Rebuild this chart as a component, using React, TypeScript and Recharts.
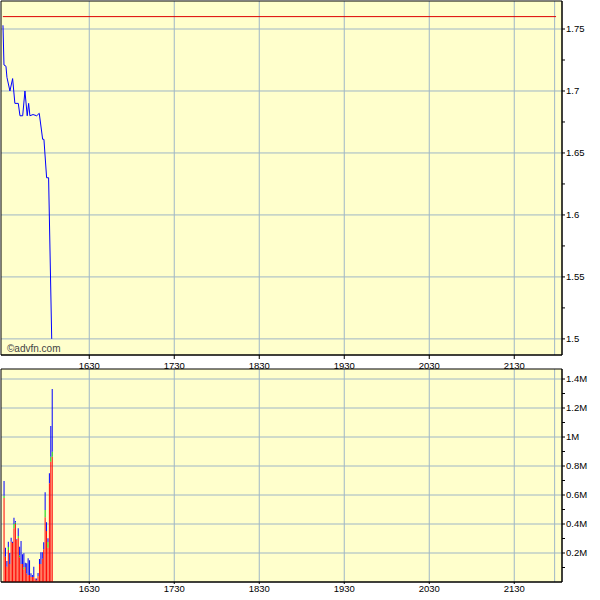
import {
    ComposedChart,
    Line,
    Bar,
    XAxis,
    YAxis,
    CartesianGrid,
    ReferenceLine,
    ReferenceArea,
} from 'recharts';

// time axis in minutes since midnight (990 = 16:30)
const X_DOMAIN: [number, number] = [927.7, 1323.7];
const TIME_TICKS = [990, 1050, 1110, 1170, 1230, 1290];
const SESSION_END = 1318.5;

const PRICE_TIMES = [
    929.1, 929.8, 931.2, 931.9, 934.0, 935.9, 937.5, 939.9, 941.1, 943.0, 944.6,
    946.2, 947.2, 948.1, 950.3, 952.9, 954.7, 957.1, 958.0, 959.9, 961.3, 963.5,
];
const PRICES = [
    1.753, 1.721, 1.72, 1.711, 1.7, 1.71, 1.69, 1.69, 1.68, 1.68, 1.7, 1.68, 1.69,
    1.68, 1.681, 1.68, 1.682, 1.661, 1.661, 1.63, 1.63, 1.5,
];
const PREV_CLOSE = 1.76;
const PRICE_DOMAIN: [number, number] = [1.487, 1.7726];
const PRICE_MAJOR = [1.5, 1.55, 1.6, 1.65, 1.7, 1.75];
const PRICE_MINOR = [1.525, 1.575, 1.625, 1.675, 1.725];

const VOL_TIMES = [
    930, 931, 932, 933, 934, 935, 936, 937, 938, 939, 940, 941, 942, 943, 944,
    945, 946, 947, 948, 949, 950, 951, 952, 953, 954, 955, 956, 957, 958, 959,
    960, 961, 962, 963, 964,
];
const VOL_RED = [
    580000, 174000, 106000, 221000, 124000, 278000, 269000, 370000, 400000,
    290000, 303000, 170000, 124000, 124000, 88000, 103000, 58000, 46000, 48000,
    35000, 35000, 35000, 20000, 12000, 40000, 124000, 124000, 160000, 226000,
    446000, 352000, 236000, 681000, 830000, 864000,
];
const VOL_GREEN = [
    15000, 0, 0, 20000, 0, 0, 0, 30000, 10000, 0, 15000, 12000, 0, 0, 12000, 0,
    0, 0, 0, 0, 0, 0, 0, 0, 0, 0, 0, 0, 0, 51000, 0, 40000, 0, 34000, 35000,
];
const VOL_BLUE = [
    102000, 62000, 39000, 37000, 76000, 28000, 9000, 43000, 11000, 4000, 52000,
    61000, 159000, 67000, 98000, 30000, 71000, 117000, 102000, 25000, 13000,
    71000, 5000, 13000, 22000, 35000, 81000, 45000, 48000, 122000, 60000, 25000,
    69000, 212000, 432000,
];
const VOL_DOMAIN: [number, number] = [0, 1469000];
const VOL_MAJOR = [200000, 400000, 600000, 800000, 1000000, 1200000, 1400000];
const VOL_MINOR = [
    100000, 300000, 500000, 700000, 900000, 1100000, 1300000,
];

const priceData = PRICE_TIMES.map((t, i) => ({ t, p: PRICES[i] }));
const volData = VOL_TIMES.map((t, i) => ({
    t,
    red: VOL_RED[i],
    green: VOL_GREEN[i],
    blue: VOL_BLUE[i],
}));

const FONT = '"Liberation Sans", Arial, sans-serif';
const GRID = '#9fb6c6';
const BG = '#ffffcc';
const tickStyle = { fontSize: 9.5, fill: '#000', fontFamily: FONT };

const fmtTime = (m: number) =>
    `${Math.floor(m / 60)}${String(m % 60).padStart(2, '0')}`;
const fmtPrice = (v: number) =>
    PRICE_MAJOR.includes(v) ? String(+v.toFixed(3)) : '';
const fmtVol = (v: number) =>
    VOL_MAJOR.includes(v) ? `${+(v / 1e6).toFixed(1)}M` : '';

export default function App() {
    return (
        <div
            style={{
                position: 'absolute',
                left: 0,
                top: 0,
                width: 600,
                height: 600,
                background: '#fff',
            }}
        >
            <div style={{ position: 'absolute', left: 0, top: 0 }}>
                <ComposedChart
                    width={600}
                    height={370}
                    data={priceData}
                    margin={{ top: 1, right: 0, bottom: 0, left: 1 }}
                >
                    <CartesianGrid
                        fill={BG}
                        fillOpacity={1}
                        stroke={GRID}
                        horizontalValues={PRICE_MAJOR}
                        verticalValues={[...TIME_TICKS, SESSION_END]}
                    />
                    <XAxis
                        dataKey="t"
                        type="number"
                        domain={X_DOMAIN}
                        ticks={TIME_TICKS}
                        tickFormatter={fmtTime}
                        allowDataOverflow
                        interval={0}
                        height={15}
                        tickSize={4}
                        tickMargin={3}
                        stroke="#000"
                        tick={tickStyle}
                    />
                    <YAxis
                        orientation="right"
                        type="number"
                        domain={PRICE_DOMAIN}
                        ticks={[...PRICE_MAJOR, ...PRICE_MINOR]}
                        tickFormatter={fmtPrice}
                        allowDataOverflow
                        interval={0}
                        width={38}
                        tickSize={3}
                        tickMargin={1}
                        stroke="#000"
                        tick={tickStyle}
                    />
                    <ReferenceLine
                        segment={[
                            { x: 929, y: PREV_CLOSE },
                            { x: 1319.5, y: PREV_CLOSE },
                        ]}
                        stroke="#dd0000"
                    />
                    <Line
                        dataKey="p"
                        type="linear"
                        stroke="#0000ff"
                        strokeWidth={1}
                        dot={false}
                        isAnimationActive={false}
                    />
                    <ReferenceArea
                        x1={X_DOMAIN[0]}
                        x2={X_DOMAIN[1]}
                        y1={PRICE_DOMAIN[0]}
                        y2={PRICE_DOMAIN[1]}
                        fill="none"
                        stroke="#000"
                    />
                </ComposedChart>
            </div>
            <div
                style={{
                    position: 'absolute',
                    left: 7,
                    top: 343,
                    fontFamily: FONT,
                    fontSize: 10,
                    lineHeight: '12px',
                    color: '#444',
                }}
            >
                ©advfn.com
            </div>
            <div style={{ position: 'absolute', left: 0, top: 368 }}>
                <ComposedChart
                    width={600}
                    height={232}
                    data={volData}
                    margin={{ top: 1, right: 0, bottom: 0, left: 1 }}
                >
                    <CartesianGrid
                        fill={BG}
                        fillOpacity={1}
                        stroke={GRID}
                        horizontalValues={VOL_MAJOR}
                        verticalValues={[...TIME_TICKS, SESSION_END]}
                    />
                    <XAxis
                        dataKey="t"
                        type="number"
                        domain={X_DOMAIN}
                        ticks={TIME_TICKS}
                        tickFormatter={fmtTime}
                        allowDataOverflow
                        interval={0}
                        height={18}
                        tickSize={2}
                        tickMargin={1}
                        stroke="#000"
                        tick={tickStyle}
                    />
                    <YAxis
                        orientation="right"
                        type="number"
                        domain={VOL_DOMAIN}
                        ticks={[...VOL_MAJOR, ...VOL_MINOR]}
                        tickFormatter={fmtVol}
                        allowDataOverflow
                        interval={0}
                        width={38}
                        tickSize={3}
                        tickMargin={1}
                        stroke="#000"
                        tick={tickStyle}
                    />
                    <Bar dataKey="red" stackId="v" fill="#ff0000" barSize={1} isAnimationActive={false} />
                    <Bar dataKey="green" stackId="v" fill="#00cc00" barSize={1} isAnimationActive={false} />
                    <Bar dataKey="blue" stackId="v" fill="#0000ff" barSize={1} isAnimationActive={false} />
                    <ReferenceArea
                        x1={X_DOMAIN[0]}
                        x2={X_DOMAIN[1]}
                        y1={VOL_DOMAIN[0]}
                        y2={VOL_DOMAIN[1]}
                        fill="none"
                        stroke="#000"
                    />
                </ComposedChart>
            </div>
        </div>
    );
}
